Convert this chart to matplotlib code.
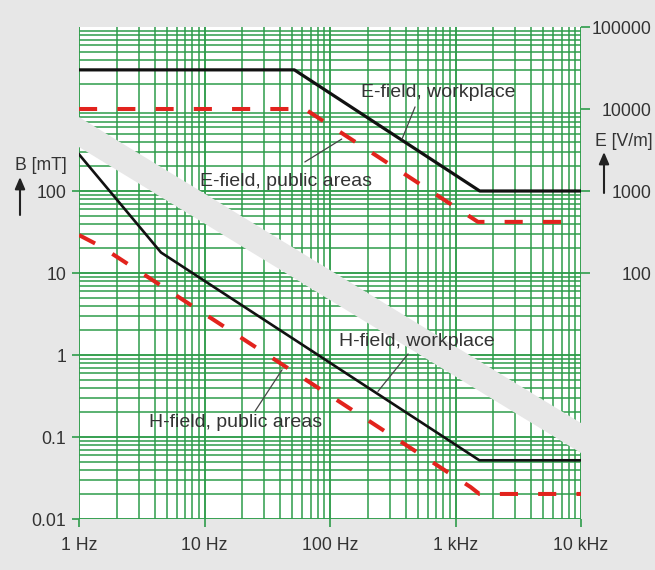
import matplotlib
matplotlib.use("Agg")
import matplotlib.pyplot as plt
from matplotlib.patches import Polygon
from matplotlib.ticker import LogLocator, NullFormatter

plt.rcParams["font.family"] = ["Liberation Sans", "DejaVu Sans"]

# limit curves
freq_e_work = [1, 52, 1560, 10000]
e_work = [30000, 30000, 1000, 1000]          # V/m
freq_e_public = [1, 63, 1510, 10000]
e_public = [10000, 10000, 420, 420]          # V/m
freq_h_work = [1, 4.5, 1550, 10000]
h_work = [280, 17.8, 0.052, 0.052]           # mT
freq_h_public = [1, 1.5, 1320, 1550, 10000]
h_public = [29, 21, 0.0245, 0.0202, 0.0202]  # mT

x_ticks = [1, 10, 100, 1000, 10000]
x_labels = ["1 Hz", "10 Hz", "100 Hz", "1 kHz", "10 kHz"]
b_ticks = [0.01, 0.1, 1, 10, 100]
b_labels = ["0.01", "0.1", "1", "10", "100"]
e_ticks = [100, 1000, 10000, 100000]
e_labels = ["100", "1000", "10000", "100000"]

BG = "#e7e7e7"
GREEN = "#2e9c4a"
RED = "#e2231d"
TXT = "#333333"
W, H = 655, 570

fig = plt.figure(figsize=(W / 100, H / 100), dpi=100, facecolor=BG)
ax = fig.add_axes([79 / W, 51 / H, 502 / W, 492 / H])
ax.set_facecolor("white")
ax.set_xscale("log")
ax.set_yscale("log")
ax.set_xlim(1, 1e4)
ax.set_ylim(0.01, 1e4)

# green log paper
ax.xaxis.set_minor_locator(LogLocator(base=10, subs=range(2, 10)))
ax.yaxis.set_minor_locator(LogLocator(base=10, subs=range(2, 10), numticks=20))
ax.xaxis.set_minor_formatter(NullFormatter())
ax.yaxis.set_minor_formatter(NullFormatter())
ax.set_axisbelow(True)
ax.grid(which="major", color=GREEN, lw=1.35)
ax.grid(which="minor", color=GREEN, lw=1.1)
for s in ax.spines.values():
    s.set_visible(False)

ax.set_xticks(x_ticks, x_labels)
ax.set_yticks(b_ticks, b_labels)
ax.tick_params(which="minor", length=0)
ax.tick_params(axis="x", length=6, width=1.2, color=GREEN, pad=7,
               labelsize=12.7, labelcolor=TXT)
ax.tick_params(axis="y", length=5, width=1.2, color=GREEN, pad=4,
               labelsize=12.7, labelcolor=TXT)

# gap between the two diagrams
band = Polygon([(0, 0.817), (1, 0.195), (1, 0.134), (0, 0.756)],
               closed=True, transform=ax.transAxes, facecolor=BG,
               edgecolor="none", zorder=1)
ax.add_patch(band)

# H-field (left axis)
ax.plot(freq_h_work, h_work, color="#111111", lw=1.9, zorder=3)
ax.plot(freq_h_public, h_public, color=RED, lw=2.9, ls=(0, (4.5, 5)), zorder=3)

# E-field (right axis)
ax2 = ax.twinx()
ax2.set_yscale("log")
ax2.set_ylim(0.1, 1e5)
ax2.set_yticks(e_ticks, e_labels)
ax2.yaxis.set_minor_locator(LogLocator(base=10, subs=range(2, 10), numticks=20))
ax2.yaxis.set_minor_formatter(NullFormatter())
ax2.tick_params(which="minor", length=0)
ax2.tick_params(axis="y", length=6.5, width=1.2, color=GREEN, pad=44.6,
                labelsize=12.7, labelcolor=TXT)
for lbl in ax2.get_yticklabels():
    lbl.set_horizontalalignment("right")
for s in ax2.spines.values():
    s.set_visible(False)

ax2.plot(freq_e_work, e_work, color="#111111", lw=2.3, zorder=3)
ax2.plot(freq_e_public, e_public, color=RED, lw=2.9, ls=(0, (4.5, 5)), zorder=3)

# curve labels with leader lines
lead = dict(arrowstyle="-", color="#444444", lw=0.9, shrinkA=0, shrinkB=0)
ax2.text(727, 15700, "E-field, workplace", ha="center", va="center",
         fontsize=14, color=TXT, zorder=4)
ax2.annotate("", xy=(375, 4300), xytext=(476, 10600), arrowprops=lead)
ax2.text(44.6, 1290, "E-field, public areas", ha="center", va="center",
         fontsize=14, color=TXT, zorder=4)
ax2.annotate("", xy=(124, 4300), xytext=(63, 2260), arrowprops=lead)
ax.text(494, 1.48, "H-field, workplace", ha="center", va="center",
        fontsize=14, color=TXT, zorder=4)
ax.annotate("", xy=(241, 0.36), xytext=(419, 1.03), arrowprops=lead)
ax.text(17.8, 0.152, "H-field, public areas", ha="center", va="center",
        fontsize=14, color=TXT, zorder=4)
ax.annotate("", xy=(41.5, 0.66), xytext=(25.3, 0.207), arrowprops=lead)

# axis titles with up arrows
up = dict(arrowstyle="-|>,head_length=0.7,head_width=0.3", color="#222222", lw=1.5,
          shrinkA=0, shrinkB=0)
fig.text(15 / W, 1 - 166 / H, "B [mT]", ha="left", va="center", fontsize=12.7,
         color=TXT)
fig.add_artist(plt.Annotation("", xy=(20 / W, 1 - 177 / H), xytext=(20 / W, 1 - 215 / H),
                              xycoords="figure fraction", textcoords="figure fraction",
                              arrowprops=up))
fig.text(653 / W, 1 - 142 / H, "E [V/m]", ha="right", va="center", fontsize=12.7,
         color=TXT)
fig.add_artist(plt.Annotation("", xy=(604 / W, 1 - 152 / H), xytext=(604 / W, 1 - 193 / H),
                              xycoords="figure fraction", textcoords="figure fraction",
                              arrowprops=up))

fig.savefig("out.png", dpi=100, facecolor=BG)
